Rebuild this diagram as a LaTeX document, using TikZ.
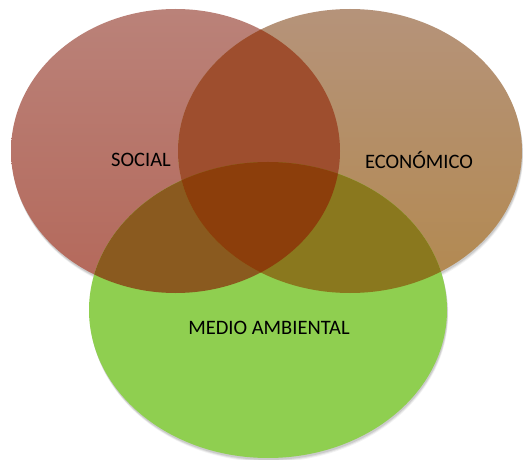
\documentclass[tikz,border=0pt]{standalone}
\usepackage{fontspec}
\setmainfont{Carlito}
\begin{document}
\begin{tikzpicture}[x=1pt,y=-1pt,
  lbl/.style={font=\fontsize{20.5}{24}\selectfont, text=black, inner sep=0pt},
  shadowfill/.style={fill=black, opacity=0.10}]
\definecolor{socTop}{HTML}{BA8279}
\definecolor{socBot}{HTML}{B4685A}
\definecolor{ecoTop}{HTML}{B5937A}
\definecolor{ecoBot}{HTML}{B3894F}
\definecolor{envCol}{HTML}{8FCF50}
\definecolor{seCol}{HTML}{9E4E2E}
\definecolor{sgCol}{HTML}{8A5A1F}
\definecolor{egCol}{HTML}{8A781E}
\definecolor{segCol}{HTML}{8C3E0B}
\def\ellS{(175.5,151) ellipse [x radius=164.5pt, y radius=142pt]}
\def\ellE{(350,151) ellipse [x radius=172pt, y radius=142pt]}
\def\ellG{(268,310) ellipse [x radius=179pt, y radius=148pt]}
\useasboundingbox (0,0) rectangle (523,460);
\fill[white] (0,0) rectangle (523,460);
% soft shadows
\foreach \d/\o in {4/0.05,3/0.07,2/0.09}{
  \fill[black, opacity=\o] (268+\d*0.3,310+\d) ellipse [x radius=179pt, y radius=148pt];
  \fill[black, opacity=\o] (175.5+\d*0.3,151+\d) ellipse [x radius=164.5pt, y radius=142pt];
  \fill[black, opacity=\o] (350+\d*0.3,151+\d) ellipse [x radius=172pt, y radius=142pt];
}
% single regions
\shade[top color=socTop, bottom color=socBot] \ellS;
\shade[top color=ecoTop, bottom color=ecoBot] \ellE;
\fill[envCol] \ellG;
% pairwise overlaps
\begin{scope}\clip \ellS; \fill[seCol] \ellE; \end{scope}
\begin{scope}\clip \ellS; \fill[sgCol] \ellG; \end{scope}
\begin{scope}\clip \ellE; \fill[egCol] \ellG; \end{scope}
% triple overlap
\begin{scope}\clip \ellS; \clip \ellE; \fill[segCol] \ellG; \end{scope}
% labels
\node[lbl] (social) at (141,160) {SOCIAL};
\node[lbl] (economico) at (419,160) {ECONÓMICO};
\node[lbl] (medio) at (269,328) {MEDIO AMBIENTAL};
\end{tikzpicture}
\end{document}
